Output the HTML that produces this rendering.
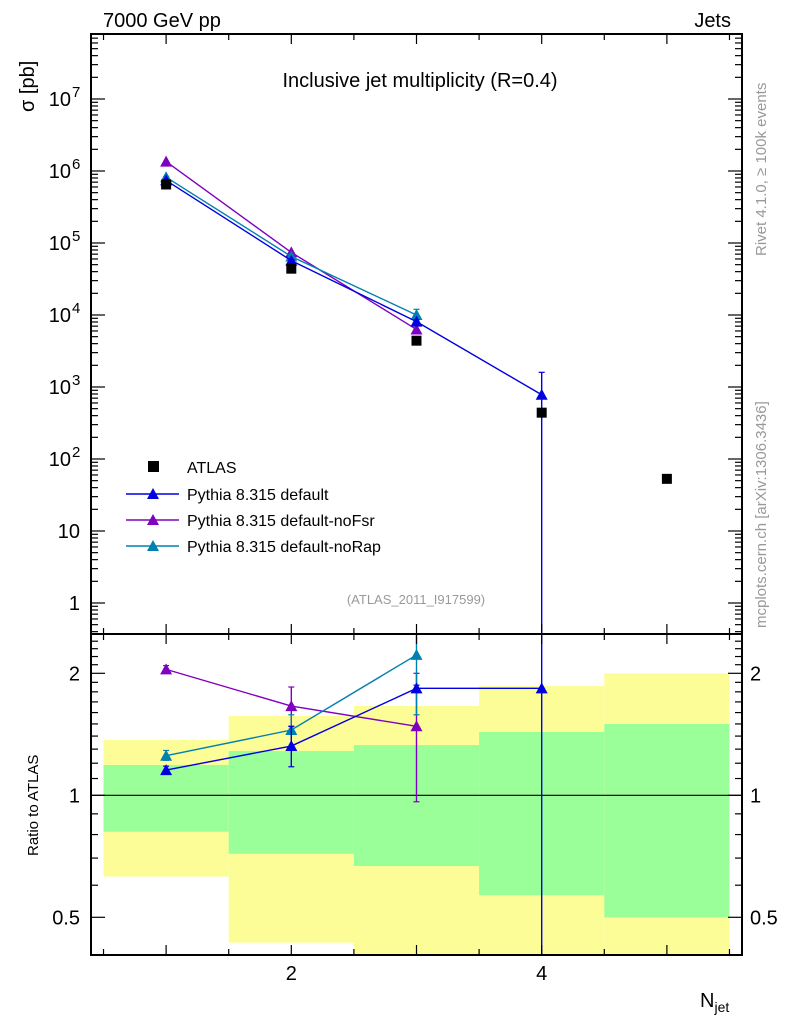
<!DOCTYPE html>
<html><head><meta charset="utf-8"><style>
html,body{margin:0;background:#fff;overflow:hidden;height:1024px;}
svg{display:block;font-family:"Liberation Sans",sans-serif;}
</style></head><body>
<svg id="c" width="786" height="1024" viewBox="0 0 786 1024"></svg>
<script>
var nbins=[1,2,3,4,5];
var atlasVals=[6.5e5,4.4e4,4.4e3,440,53];
var defVals=[7.4e5,5.7e4,8.1e3,780];
var defErrLo=[7.2e5,5.5e4,7.6e3,0.01];
var defErrHi=[7.6e5,5.9e4,8.6e3,1600];
var noFsrVals=[1.35e6,7.4e4,6.3e3];
var noRapVals=[8.2e5,6.5e4,1.0e4];
var noRapMainErrLo=[8.0e5,6.2e4,8.0e3];
var noRapMainErrHi=[8.4e5,6.8e4,1.2e4];
var yTickExp=[0,1,2,3,4,5,6,7];
var bandYellowHi=[1.369,1.57,1.661,1.86,2.0];
var bandYellowLo=[0.630,0.433,0.39,0.3,0.3];
var bandGreenHi=[1.188,1.286,1.33,1.433,1.5];
var bandGreenLo=[0.813,0.717,0.669,0.567,0.5];
var defRatio=[1.154,1.323,1.836,1.836];
var defRatioErrLo=[1.13,1.176,1.8,0.01];
var defRatioErrHi=[1.18,1.48,1.87,9];
var noFsrRatio=[2.045,1.66,1.48];
var noFsrErrLo=[2.0,1.48,0.964];
var noFsrErrHi=[2.09,1.85,2.0];
var noRapRatio=[1.252,1.449,2.22];
var noRapErrLo=[1.22,1.32,1.58];
var noRapErrHi=[1.29,1.58,2.6];
var ratioTicks=[0.5,1,2];

var svg=document.getElementById('c');
var NS='http://www.w3.org/2000/svg';
function mk(t,a,p){var e=document.createElementNS(NS,t);for(var k in a)e.setAttribute(k,a[k]);(p||svg).appendChild(e);return e;}
var L=91,R=742,T=34,MB=634,B=955;
function X(v){return L+(v-0.4)*(R-L)/5.2;}
function Y(v){return 603-72*Math.log10(v);}
function YR(v){return 795.3-122*Math.log2(v);}
var ratioClip=mk('clipPath',{id:'rc'});mk('rect',{x:L,y:MB,width:R-L,height:B-MB},ratioClip);
var mainClip=mk('clipPath',{id:'mc'});mk('rect',{x:L,y:T,width:R-L,height:MB-T},mainClip);

var gb=mk('g',{'clip-path':'url(#rc)'});
nbins.forEach(function(n,i){
 var r=mk('rect',{x:X(n-0.5),y:YR(bandYellowHi[i]),width:X(n+0.5)-X(n-0.5),height:YR(bandYellowLo[i])-YR(bandYellowHi[i]),fill:'#fdfd98'},gb);
 
 
 var r2=mk('rect',{x:X(n-0.5),y:YR(bandGreenHi[i]),width:X(n+0.5)-X(n-0.5),height:YR(bandGreenLo[i])-YR(bandGreenHi[i]),fill:'#9aff98'},gb);
 
 
});
mk('line',{x1:L,x2:R,y1:YR(1),y2:YR(1),stroke:'#000','stroke-width':1.2});

function tri(g,x,y,c){mk('path',{d:'M'+(x-6)+','+(y+5)+'L'+(x+6)+','+(y+5)+'L'+x+','+(y-6)+'Z',fill:c},g);}
function series(name,vals,fy,c,clip,lo,hi){
 var g=mk('g',{'clip-path':clip});
 
 
 var pts=vals.map(function(v,i){return [X(nbins[i]),fy(v)];});
 mk('polyline',{points:pts.map(function(p){return p.join(',');}).join(' '),fill:'none',stroke:c,'stroke-width':1.4},g);
 if(lo){vals.forEach(function(v,i){var x=X(nbins[i]);
  mk('line',{x1:x,x2:x,y1:fy(lo[i]),y2:fy(hi[i]),stroke:c,'stroke-width':1.4},g);
  [lo[i],hi[i]].forEach(function(ev){mk('line',{x1:x-3,x2:x+3,y1:fy(ev),y2:fy(ev),stroke:c,'stroke-width':1.2},g);});});}
 pts.forEach(function(p){tri(g,p[0],p[1],c);});
}
series('ratio-noFsr',noFsrRatio,YR,'#8000bf','url(#rc)',noFsrErrLo,noFsrErrHi);
series('ratio-noRap',noRapRatio,YR,'#0080b0','url(#rc)',noRapErrLo,noRapErrHi);
series('ratio-default',defRatio,YR,'#0000e0','url(#rc)',defRatioErrLo,defRatioErrHi);
series('main-noFsr',noFsrVals,Y,'#8000bf','url(#mc)');
series('main-noRap',noRapVals,Y,'#0080b0','url(#mc)',noRapMainErrLo,noRapMainErrHi);
series('main-default',defVals,Y,'#0000e0','url(#mc)',defErrLo,defErrHi);
var ga=mk('g',{});


atlasVals.forEach(function(v,i){mk('rect',{x:X(nbins[i])-5,y:Y(v)-5,width:10,height:10,fill:'#000'},ga);});

mk('rect',{x:L,y:T,width:R-L,height:MB-T,fill:'none',stroke:'#000','stroke-width':2});
mk('rect',{x:L,y:MB,width:R-L,height:B-MB,fill:'none',stroke:'#000','stroke-width':2});
for(var xv=0.5;xv<=5.51;xv+=0.5){
 var xx=X(xv),big=Math.abs(xv-Math.round(xv))<0.01,tl=big?10:6;
 [[T,1],[MB,-1],[MB,1],[B,-1]].forEach(function(q){mk('line',{x1:xx,x2:xx,y1:q[0],y2:q[0]+q[1]*tl,stroke:'#000','stroke-width':1.2});});
}
function txt(s,a,name){var t=mk('text',a);t.textContent=s;return t;}
[2,4].forEach(function(v){txt(String(v),{x:X(v),y:980,'font-size':20,'text-anchor':'middle'},'x-tick-label');});
for(var d=-1;d<=7;d++){for(var m=1;m<10;m++){
 var yy=Y(m*Math.pow(10,d));if(yy<T||yy>MB)continue;var ml=(m==1)?14:7;
 mk('line',{x1:L,x2:L+ml,y1:yy,y2:yy,stroke:'#000','stroke-width':1.2});
 mk('line',{x1:R,x2:R-ml,y1:yy,y2:yy,stroke:'#000','stroke-width':1.2});}}
yTickExp.forEach(function(ex){
 var y0=Y(Math.pow(10,ex));
 if(ex===0){txt('1',{x:80,y:y0+7,'font-size':20,'text-anchor':'end'},'y-tick-label');}
 else if(ex===1){txt('10',{x:80,y:y0+7,'font-size':20,'text-anchor':'end'},'y-tick-label');}
 else{txt('10',{x:71,y:y0+7,'font-size':20,'text-anchor':'end'},'y-tick-label');
  txt(String(ex),{x:72,y:y0-2,'font-size':15},'y-tick-exponent');}
});
[0.4,0.5,0.6,0.7,0.8,0.9,1,1.1,1.2,1.3,1.4,1.5,1.6,1.7,1.8,1.9,2,2.1,2.2,2.3,2.4,2.5].forEach(function(v){
 var y=YR(v);if(y<MB||y>B)return;var l=ratioTicks.indexOf(v)>=0?14:7;
 mk('line',{x1:L,x2:L+l,y1:y,y2:y,stroke:'#000','stroke-width':1.2});
 mk('line',{x1:R,x2:R-l,y1:y,y2:y,stroke:'#000','stroke-width':1.2});});
ratioTicks.forEach(function(v){
 txt(String(v),{x:80,y:YR(v)+7,'font-size':20,'text-anchor':'end'},'ratio-tick-label');
 txt(String(v),{x:750,y:YR(v)+7,'font-size':20},'ratio-tick-label-right');});
txt('7000 GeV pp',{x:103,y:27,'font-size':20},'energy-label');
txt('Jets',{x:731,y:27,'font-size':20,'text-anchor':'end'},'process-label');
txt('Inclusive jet multiplicity (R=0.4)',{x:420,y:87,'font-size':20,'text-anchor':'middle'},'plot-title');
txt('σ [pb]',{x:0,y:0,'font-size':20,transform:'translate(34,112) rotate(-90)'},'y-axis-title');
txt('Ratio to ATLAS',{x:0,y:0,'font-size':15,transform:'translate(38,856) rotate(-90)'},'ratio-axis-title');
var xt=txt('N',{x:700,y:1007,'font-size':20},'x-axis-title');
var sub=mk('tspan',{'font-size':14,dy:5},xt);sub.textContent='jet';
txt('(ATLAS_2011_I917599)',{x:416,y:604,'font-size':13,fill:'#999','text-anchor':'middle'},'analysis-id');
txt('Rivet 4.1.0, ≥ 100k events',{x:0,y:0,'font-size':15,fill:'#999',transform:'translate(766,256) rotate(-90)'},'rivet-label');
txt('mcplots.cern.ch [arXiv:1306.3436]',{x:0,y:0,'font-size':15,fill:'#999',transform:'translate(766,628) rotate(-90)'},'mcplots-label');
var lg=mk('g',{});


mk('rect',{x:148,y:461,width:11,height:11,fill:'#000'},lg);
txt('ATLAS',{x:187,y:473,'font-size':16},'legend-atlas');
[['Pythia 8.315 default','#0000e0',494],['Pythia 8.315 default-noFsr','#8000bf',520],['Pythia 8.315 default-noRap','#0080b0',546]].forEach(function(q,i){
 mk('line',{x1:126,x2:179,y1:q[2],y2:q[2],stroke:q[1],'stroke-width':1.4},lg);tri(lg,153,q[2],q[1]);
 txt(q[0],{x:187,y:q[2]+6,'font-size':16},'legend-entry-'+i);});
</script>
</body></html>
